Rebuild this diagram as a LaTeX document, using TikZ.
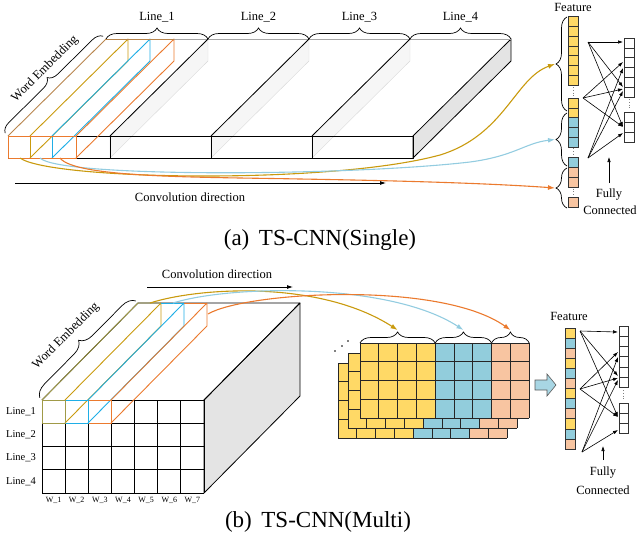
\documentclass[tikz,border=0pt]{standalone}
\usepackage{fontspec}
\setmainfont{Liberation Serif}
\usetikzlibrary{arrows.meta,decorations.pathreplacing,calc}

\definecolor{cgold}{HTML}{C99A0E}
\definecolor{ccyan}{HTML}{1FAEE6}
\definecolor{clblue}{HTML}{93CCE0}
\definecolor{corange}{HTML}{EB7A2E}
\definecolor{cbrown}{HTML}{B8864E}
\definecolor{colive}{HTML}{A09A48}
\definecolor{fyellow}{HTML}{FFD966}
\definecolor{fblue}{HTML}{92CDDC}
\definecolor{fpeach}{HTML}{F8C5A1}
\definecolor{sidegray}{HTML}{E4E4E4}
\definecolor{arrowfill}{HTML}{A8D6E4}

\begin{document}
\begin{tikzpicture}[x=1pt,y=-1pt,
  lbl/.style={inner sep=0pt, font=\fontsize{12.5}{14}\selectfont},
  smalllbl/.style={inner sep=0pt, font=\fontsize{10.5}{12}\selectfont},
  tinylbl/.style={inner sep=0pt, font=\fontsize{8}{9}\selectfont},
  caplbl/.style={inner sep=0pt, font=\fontsize{23}{27}\selectfont},
  edge/.style={line width=0.8pt, line join=round},
  fedge/.style={line width=0.9pt, line join=round},
  brc/.style={decorate, decoration={brace, amplitude=11pt}, line width=0.7pt},
  webrc/.style={decorate, decoration={brace, amplitude=10pt, raise=4pt}, line width=0.7pt},
  fcarrow/.style={-{Latex[length=5pt,width=3.5pt]}, line width=0.6pt},
  curvearrow/.style={line width=1.1pt, -{Latex[length=7pt,width=5pt]}},
  dirarrow/.style={line width=0.8pt, -{Latex[length=6pt,width=4pt]}},
  dotline/.style={gray, line width=0.8pt, dotted},
]
\useasboundingbox (0,0) rectangle (637,544);

% ================= (a) =================
% faint side faces
\foreach \x in {110,211,312} {
  \filldraw[fill=gray!7, draw=gray!30, line width=0.4pt] (\x,136) -- (\x+98,39) -- (\x+98,61) -- (\x,158) -- cycle;
}
% last side face
\filldraw[fill=sidegray, draw=black, edge] (413,136) -- (511,39) -- (511,61) -- (413,158) -- cycle;
% back top edge
\draw[gray!70, line width=0.7pt] (106,39) -- (511,39);
% top diagonals
\foreach \x in {110,211,312} { \draw[black, edge] (\x,136) -- (\x+98,39); }
% front faces
\foreach \x/\y in {8/110,110/211,211/312,312/413} { \draw[black, edge] (\x,136) rectangle (\y,158); }

% filters (a)
\draw[cgold, fedge] (30,158) -- (128,61);
\draw[cgold, fedge] (30,136) -- (128,39) -- (128,61);
\draw[cgold, fedge] (30,136) -- (30,158);
\draw[ccyan, fedge] (52,158) -- (150,61);
\draw[ccyan, fedge] (52,136) -- (150,39) -- (150,61);
\draw[ccyan, fedge] (52,136) -- (52,158);
\draw[corange, fedge] (76,158) -- (174,61) -- (174,39) -- (76,136);
\draw[corange, fedge] (8,136) rectangle (76,158);
\draw[cbrown, fedge] (106,39) -- (174,39);
\draw[cbrown, fedge] (8,136) -- (106,39);

% braces (a)
\draw[webrc] (8,136) -- (106,39);
\node[lbl, rotate=45] (we1) at (45,69) {Word Embedding};
\draw[brc] (106,39) -- (208,39);
\draw[brc] (208,39) -- (309,39);
\draw[brc] (309,39) -- (410,39);
\draw[brc] (410,39) -- (511,39);
\node[lbl] (la1) at (157,17) {Line\_1};
\node[lbl] (la2) at (258.5,17) {Line\_2};
\node[lbl] (la3) at (359.5,17) {Line\_3};
\node[lbl] (la4) at (460.5,17) {Line\_4};

% feature column (a)
\node[lbl] (feata) at (573,7) {Feature};
\foreach \i in {0,...,6} { \filldraw[fill=fyellow, draw=black!80, line width=0.6pt] (568,{16.7+9.75*\i}) rectangle ++(10,9.75); }
\draw[dotline] (573,87) -- (573,97);
\foreach \y/\c in {98/fyellow,107.8/fyellow,117.6/fblue,127.4/fblue,137.2/fblue,157/fblue,167/fpeach,177/fpeach,197/fpeach} {
  \filldraw[fill=\c, draw=black!80, line width=0.6pt] (568,\y) rectangle ++(10,9.8);
}
\draw[dotline] (573,148) -- (573,156);
\draw[dotline] (573,188.5) -- (573,196);
\draw[brc] (567,111) -- (567,17);
\draw[brc] (567,166) -- (567,113);
\draw[brc] (567,208) -- (567,168);
\coordinate (ba1) at (555,64);
\coordinate (ba2) at (555,139.5);
\coordinate (ba3) at (555,188);

% FC column (a)
\foreach \i in {0,...,5} { \draw[black!80, line width=0.6pt] (624,{38+9.8*\i}) rectangle ++(10,9.8); }
\foreach \i in {0,...,2} { \draw[black!80, line width=0.6pt] (624,{112+10*\i}) rectangle ++(10,10); }
\draw[dotline] (629,99) -- (629,110);
\coordinate (sa1) at (588,42);
\coordinate (sa2) at (583,98);
\coordinate (sa3) at (588,158);
\foreach \t in {42,87,127} { \draw[fcarrow] (sa1) -- (623,\t); }
\foreach \t in {62,89,127} { \draw[fcarrow] (sa2) -- (623,\t); }
\foreach \t in {68,91,133} { \draw[fcarrow] (sa3) -- (623,\t); }
\node[lbl] (fully1) at (609,195) {Fully};
\node[lbl] (conn1) at (610,210) {Connected};
\coordinate (fa) at (609,183);
\coordinate (fb) at (609,157);
\draw[fcarrow] (fa) -- (fb);

% curves (a)
\coordinate (ga) at (20,158);
\coordinate (bla) at (40,158);
\coordinate (oa) at (60,158);
\draw[curvearrow, cgold] (ga) .. controls (50,180) and (330,185) .. (440,155) .. controls (505,135) and (515,78) .. (ba1);
\draw[curvearrow, clblue] (bla) .. controls (60,178) and (350,176) .. (470,162) .. controls (515,156) and (525,143) .. (ba2);
\draw[curvearrow, corange] (oa) .. controls (75,178) and (200,177) .. (300,179) .. controls (420,181) and (500,184) .. (ba3);

% convolution direction (a)
\coordinate (cda) at (15,183);
\coordinate (cdb) at (386,183);
\draw[dirarrow] (cda) -- (cdb);
\node[lbl] (cdlab1) at (190,197) {Convolution direction};

\node[caplbl] (capa) at (320,240) {(a)\, TS-CNN(Single)};

% ================= (b) =================
% side face
\filldraw[fill=sidegray, draw=black, edge] (204,400) -- (300,303) -- (300,396) -- (204,493) -- cycle;
% top face
\draw[black, edge] (42,400) -- (138,303) -- (300,303) -- (204,400);
% front grid
\foreach \i in {0,...,7} { \draw[black, edge] ({42+23.143*\i},400) -- ({42+23.143*\i},493); }
\foreach \j in {0,...,4} { \draw[black, edge] (42,{400+23.25*\j}) -- (204,{400+23.25*\j}); }

% filters (b)
\draw[cgold, fedge] (65,423) -- (161,326);
\draw[ccyan, fedge] (88,423) -- (184,326);
\draw[corange, fedge] (111,423) -- (207,326);
\draw[cgold, fedge] (65,400) -- (161,303) -- (161,326);
\draw[ccyan, fedge] (88,400) -- (184,303) -- (184,326);
\draw[corange, fedge] (111,400) -- (207,303) -- (207,326);
\draw[corange, fedge] (88,400) -- (111,400) -- (111,423) -- (88,423);
\draw[ccyan, fedge] (65,400) -- (88,400) -- (88,423) -- (65,423);
\draw[colive, fedge] (42,400) rectangle (65,423);
\draw[colive, fedge] (42,400) -- (138,303) -- (161,303);
\draw[ccyan, fedge] (161,303) -- (184,303);
\draw[corange, fedge] (184,303) -- (207,303);

% labels (b)
\draw[decorate, decoration={brace, amplitude=13pt, raise=3pt}, line width=0.7pt] (42,400) -- (138,303);
\node[lbl, rotate=45] (we2) at (66,336) {Word Embedding};
\node[smalllbl] (lb1) at (21,411.6) {Line\_1};
\node[smalllbl] (lb2) at (21,434.9) {Line\_2};
\node[smalllbl] (lb3) at (21,458.1) {Line\_3};
\node[smalllbl] (lb4) at (21,481.4) {Line\_4};
\foreach \i in {1,...,7} { \node[tinylbl] (w\i) at ({42+23.143*(\i-0.5)},500) {W\_\i}; }

% convolution direction (b)
\coordinate (cdc) at (147,287);
\coordinate (cdd) at (293,287);
\draw[dirarrow] (cdc) -- (cdd);
\node[lbl] (cdlab2) at (217,274) {Convolution direction};

% feature maps stack
\foreach \ox/\oy in {-22/20,-12/10,0/0} {
  \foreach \c/\col in {0/fyellow,1/fyellow,2/fyellow,3/fyellow,4/fblue,5/fblue,6/fblue,7/fpeach,8/fpeach} {
    \fill[\col] ({360+\ox+\c*18.8},{343+\oy}) rectangle ++(18.8,75);
  }
  \foreach \c in {0,...,9} { \draw[black!85, line width=0.8pt] ({360+\ox+\c*18.8},{343+\oy}) -- ++(0,75); }
  \foreach \r in {0,...,4} { \draw[black!85, line width=0.8pt] ({360+\ox},{343+\oy+\r*18.75}) -- ++(169.2,0); }
}
\fill (335,351) circle (0.9);
\fill (342,346) circle (0.9);
\fill (348,341) circle (0.9);
\draw[brc] (360,343) -- (435.2,343);
\draw[brc] (435.2,343) -- (491.6,343);
\draw[brc] (491.6,343) -- (529.2,343);
\coordinate (bb1) at (397.6,330);
\coordinate (bb2) at (463.4,330);
\coordinate (bb3) at (510.4,330);

% curves (b)
\coordinate (gb) at (150,303);
\coordinate (blb) at (173,303);
\coordinate (ob) at (208,314);
\draw[curvearrow, cgold] (gb) .. controls (200,287) and (320,280) .. (bb1);
\draw[curvearrow, clblue] (blb) .. controls (230,285) and (390,282) .. (bb2);
\draw[curvearrow, corange] (ob) .. controls (245,292) and (440,280) .. (bb3);

% big arrow
\filldraw[fill=arrowfill, draw=gray!70!black, line width=0.6pt] (535,380) -- (547,380) -- (547,374) -- (556,385) -- (547,396) -- (547,390) -- (535,390) -- cycle;

% feature column (b)
\node[lbl] (featb) at (569,316) {Feature};
\foreach \i/\c in {0/fyellow,1/fblue,2/fpeach,3/fyellow,4/fblue,5/fpeach,6/fyellow,7/fblue,8/fpeach,9/fyellow,10/fblue,11/fpeach} {
  \filldraw[fill=\c, draw=black!80, line width=0.6pt] (565,{328+10.08*\i}) rectangle ++(10,10.08);
}

% FC column (b)
\foreach \i in {0,...,5} { \draw[black!80, line width=0.6pt] (619,{326+10.2*\i}) rectangle ++(9.5,10.2); }
\foreach \i in {0,...,2} { \draw[black!80, line width=0.6pt] (619,{403+10*\i}) rectangle ++(9.5,10); }
\draw[dotline] (623.7,390) -- (623.7,401);
\coordinate (sb1) at (580,331);
\coordinate (sb2) at (580,389);
\coordinate (sb3) at (582,452);
\foreach \t in {332,376,417} { \draw[fcarrow] (sb1) -- (618,\t); }
\foreach \t in {352,378,417} { \draw[fcarrow] (sb2) -- (618,\t); }
\foreach \t in {357,380,430} { \draw[fcarrow] (sb3) -- (618,\t); }
\node[lbl] (fully2) at (603,473) {Fully};
\node[lbl] (conn2) at (603,490) {Connected};
\coordinate (fc) at (603,460);
\coordinate (fd) at (603,446);
\draw[fcarrow] (fc) -- (fd);

\node[caplbl] (capb) at (318,522) {(b)\, TS-CNN(Multi)};
\end{tikzpicture}
\end{document}
